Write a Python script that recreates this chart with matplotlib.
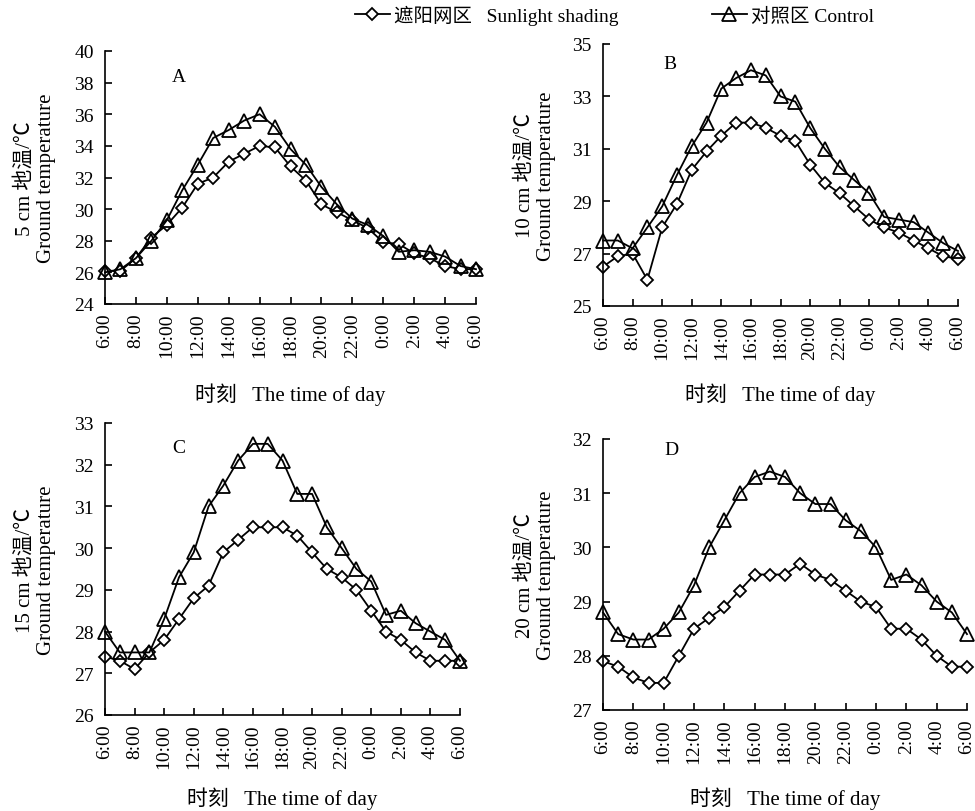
import numpy as np
import matplotlib.pyplot as plt

plt.rcParams['font.family'] = ['Liberation Serif', 'Noto Sans CJK SC', 'DejaVu Sans']

hours = ['6:00', '7:00', '8:00', '9:00', '10:00', '11:00', '12:00', '13:00', '14:00',
         '15:00', '16:00', '17:00', '18:00', '19:00', '20:00', '21:00', '22:00', '23:00',
         '0:00', '1:00', '2:00', '3:00', '4:00', '5:00', '6:00']

# 5 cm
shade_a = [26.1, 26.1, 26.9, 28.2, 29.0, 30.1, 31.6, 32.0, 33.0, 33.5, 34.0, 33.9, 32.7,
           31.8, 30.3, 29.8, 29.3, 28.8, 27.9, 27.8, 27.2, 26.9, 26.4, 26.2, 26.2]
ctrl_a = [26.0, 26.2, 26.9, 28.0, 29.3, 31.2, 32.8, 34.5, 35.0, 35.6, 36.0, 35.2, 33.8,
          32.8, 31.4, 30.3, 29.4, 29.0, 28.3, 27.3, 27.4, 27.3, 27.0, 26.4, 26.2]
# 10 cm
shade_b = [26.5, 26.9, 27.0, 26.0, 28.0, 28.9, 30.2, 30.9, 31.5, 32.0, 32.0, 31.8, 31.5,
           31.3, 30.4, 29.7, 29.3, 28.8, 28.3, 28.0, 27.8, 27.5, 27.2, 26.9, 26.8]
ctrl_b = [27.5, 27.5, 27.2, 28.0, 28.8, 30.0, 31.1, 32.0, 33.3, 33.7, 34.0, 33.8, 33.0,
          32.8, 31.8, 31.0, 30.3, 29.8, 29.3, 28.4, 28.3, 28.2, 27.8, 27.4, 27.1]
# 15 cm
shade_c = [27.4, 27.3, 27.1, 27.5, 27.8, 28.3, 28.8, 29.1, 29.9, 30.2, 30.5, 30.5, 30.5,
           30.3, 29.9, 29.5, 29.3, 29.0, 28.5, 28.0, 27.8, 27.5, 27.3, 27.3, 27.3]
ctrl_c = [28.0, 27.5, 27.5, 27.5, 28.3, 29.3, 29.9, 31.0, 31.5, 32.1, 32.5, 32.5, 32.1,
          31.3, 31.3, 30.5, 30.0, 29.5, 29.2, 28.4, 28.5, 28.2, 28.0, 27.8, 27.3]
# 20 cm
shade_d = [27.9, 27.8, 27.6, 27.5, 27.5, 28.0, 28.5, 28.7, 28.9, 29.2, 29.5, 29.5, 29.5,
           29.7, 29.5, 29.4, 29.2, 29.0, 28.9, 28.5, 28.5, 28.3, 28.0, 27.8, 27.8]
ctrl_d = [28.8, 28.4, 28.3, 28.3, 28.5, 28.8, 29.3, 30.0, 30.5, 31.0, 31.3, 31.4, 31.3,
          31.0, 30.8, 30.8, 30.5, 30.3, 30.0, 29.4, 29.5, 29.3, 29.0, 28.8, 28.4]

depths = ['5', '10', '15', '20']
letters = ['A', 'B', 'C', 'D']
ylims = [(24, 40, 2), (25, 35, 2), (26, 33, 1), (27, 32, 1)]
# axes boxes in pixels: left, top, right, bottom
boxes = [(105, 52, 476, 305), (603, 45, 958, 307), (105, 424, 460, 716), (603, 440, 967, 711)]
letter_pos = [(0.18, 0.88), (0.17, 0.91), (0.19, 0.90), (0.17, 0.945)]
ylab_x = [56, 556, 56, 556]      # right edge of y label block, px
xlab_y = [383, 383, 787, 787]    # top of x label, px

W, H = 975, 812
fig = plt.figure(figsize=(W / 100, H / 100), dpi=100)

x = np.arange(len(hours))
lines = None
for i, (s, c) in enumerate([(shade_a, ctrl_a), (shade_b, ctrl_b), (shade_c, ctrl_c), (shade_d, ctrl_d)]):
    l, t, r, b = boxes[i]
    ax = fig.add_axes([l / W, 1 - b / H, (r - l) / W, (b - t) / H])
    l1, = ax.plot(x, s, color='black', lw=1.3, marker='D', ms=6.5, mfc='white', mew=1.3)
    l2, = ax.plot(x, c, color='black', lw=1.3, marker='^', ms=10, mfc='none', mew=1.3)
    lines = (l1, l2)
    lo, hi, st = ylims[i]
    ax.set_ylim(lo, hi)
    ax.set_yticks(np.arange(lo, hi + 0.01, st))
    ax.set_xlim(0, 24)
    ax.set_xticks(x[::2])
    ax.set_xticklabels(hours[::2], rotation=90)
    for sp in ['top', 'right']:
        ax.spines[sp].set_visible(False)
    ax.spines['left'].set_linewidth(1.2)
    ax.spines['bottom'].set_linewidth(1.2)
    ax.tick_params(direction='in', length=5, width=1.2, labelsize=14)
    ax.tick_params(axis='x', pad=6)
    ax.tick_params(axis='y', pad=8)
    ax.set_ylabel(depths[i] + ' cm 地温/℃\nGround temperature', fontsize=15, linespacing=1.15)
    ax.yaxis.set_label_coords((ylab_x[i] - l) / (r - l), 0.5)
    ax.set_xlabel('时刻   The time of day', fontsize=15)
    ax.xaxis.set_label_coords(0.5, (b - xlab_y[i]) / (b - t))
    ax.text(letter_pos[i][0], letter_pos[i][1], letters[i], transform=ax.transAxes, fontsize=14)
    for ln in ax.lines:
        ln.set_clip_on(False)

fig.legend(lines, ['遮阳网区   Sunlight shading', '对照区 Control'], loc='upper center',
           bbox_to_anchor=(0.63, 1.015), ncol=2, frameon=False, fontsize=14,
           handlelength=1.8, columnspacing=4.8, handletextpad=0.2)

fig.savefig('out.png', dpi=100)
